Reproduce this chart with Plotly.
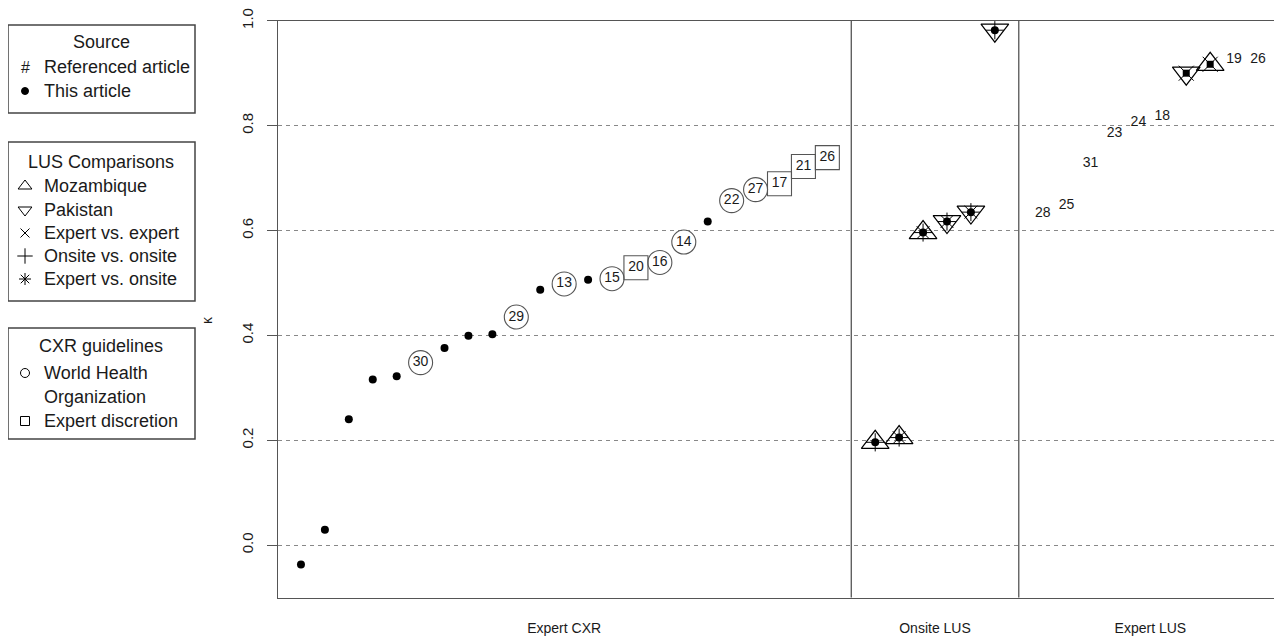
import plotly.graph_objects as go

# ---------------- data ----------------
cxr_values = [-0.037, 0.029, 0.240, 0.316, 0.322, 0.348, 0.376, 0.399, 0.402, 0.435,
              0.487, 0.498, 0.506, 0.508, 0.529, 0.539, 0.578, 0.617, 0.657, 0.678,
              0.689, 0.722, 0.739]
cxr_labels = [None, None, None, None, None, "30", None, None, None, "29",
              None, "13", None, "15", "20", "16", "14", None, "22", "27",
              "17", "21", "26"]
cxr_guideline = [None, None, None, None, None, "WHO", None, None, None, "WHO",
                 None, "WHO", None, "WHO", "Expert", "WHO", "WHO", None, "WHO", "WHO",
                 "Expert", "Expert", "Expert"]

onsite_values = [0.196, 0.205, 0.596, 0.617, 0.635, 0.982]
onsite_country = ["Mozambique", "Mozambique", "Mozambique", "Pakistan", "Pakistan", "Pakistan"]
onsite_comparison = ["Onsite vs. onsite", "Expert vs. onsite", "Expert vs. onsite",
                     "Expert vs. onsite", "Expert vs. onsite", "Onsite vs. onsite"]

expert_values = [0.633, 0.648, 0.728, 0.785, 0.806, 0.818, 0.900, 0.917, 0.926, 0.926]
expert_labels = ["28", "25", "31", "23", "24", "18", None, None, "19", "26"]
expert_country = [None, None, None, None, None, None, "Pakistan", "Mozambique", None, None]

group_names = ["Expert CXR", "Onsite LUS", "Expert LUS"]
y_ticks = [0.0, 0.2, 0.4, 0.6, 0.8, 1.0]
y_ticktext = ["0.0", "0.2", "0.4", "0.6", "0.8", "1.0"]

# ---------------- positions (sequential slots with one-slot gaps) ----------------
cxr_x = list(range(len(cxr_values)))
sep1 = len(cxr_values)
onsite_x = [sep1 + 1 + i for i in range(len(onsite_values))]
sep2 = onsite_x[-1] + 1
expert_x = [sep2 + 1 + i for i in range(len(expert_values))]
group_centers = [sum(cxr_x) / len(cxr_x), sum(onsite_x) / len(onsite_x), sum(expert_x) / len(expert_x)]

# page body has an 8px margin; the figure is laid out in window pixels
OFF = 8
W, H = 1282 - OFF, 637 - OFF


def pxx(px):
    return (px - OFF) / W


def pxy(py):
    return (H - (py - OFF)) / H


FONT = "Liberation Sans, Arial, Helvetica, sans-serif"
INK = "#1a1a1a"
LINE = "#555555"

fig = go.Figure()


def add(x, y, **kw):
    fig.add_trace(go.Scatter(x=x, y=y, showlegend=False, hoverinfo="skip", cliponaxis=False, **kw))


# Expert CXR: this article dots
dx = [x for x, l in zip(cxr_x, cxr_labels) if l is None]
dy = [v for v, l in zip(cxr_values, cxr_labels) if l is None]
add(dx, dy, mode="markers", marker=dict(symbol="circle", size=8, color="black"))

# referenced: WHO (circle) and expert discretion (square)
for g, sym in [("WHO", "circle-open"), ("Expert", "square-open")]:
    xs = [x for x, gg in zip(cxr_x, cxr_guideline) if gg == g]
    ys = [v for v, gg in zip(cxr_values, cxr_guideline) if gg == g]
    ts = [l for l, gg in zip(cxr_labels, cxr_guideline) if gg == g]
    add(xs, ys, mode="markers+text", text=ts, textposition="middle center",
        textfont=dict(family=FONT, size=14, color=INK),
        marker=dict(symbol=sym, size=24, color=LINE, line=dict(color=LINE, width=1.1)))

# Onsite LUS
tri_sym = {"Mozambique": "triangle-up-open", "Pakistan": "triangle-down-open"}
cmp_sym = {"Onsite vs. onsite": "cross-thin-open", "Expert vs. onsite": "asterisk-open",
           "Expert vs. expert": "x-thin-open"}
cmp_size = {"Onsite vs. onsite": 13, "Expert vs. onsite": 15, "Expert vs. expert": 15}
for c in ["Mozambique", "Pakistan"]:
    xs = [x for x, cc in zip(onsite_x, onsite_country) if cc == c]
    ys = [v for v, cc in zip(onsite_values, onsite_country) if cc == c]
    add(xs, ys, mode="markers", marker=dict(symbol=tri_sym[c], size=24, color="black",
                                            line=dict(color="black", width=1.2)))
for k in ["Onsite vs. onsite", "Expert vs. onsite"]:
    xs = [x for x, cc in zip(onsite_x, onsite_comparison) if cc == k]
    ys = [v for v, cc in zip(onsite_values, onsite_comparison) if cc == k]
    add(xs, ys, mode="markers", marker=dict(symbol=cmp_sym[k], size=cmp_size[k], color="black",
                                            line=dict(color="black", width=1)))
add(onsite_x, onsite_values, mode="markers", marker=dict(symbol="circle", size=8, color="black"))

# Expert LUS
for c in ["Mozambique", "Pakistan"]:
    xs = [x for x, cc in zip(expert_x, expert_country) if cc == c]
    ys = [v for v, cc in zip(expert_values, expert_country) if cc == c]
    add(xs, ys, mode="markers", marker=dict(symbol=tri_sym[c], size=24, color="black",
                                            line=dict(color="black", width=1.2)))
    add(xs, ys, mode="markers", marker=dict(symbol=cmp_sym["Expert vs. expert"],
                                            size=cmp_size["Expert vs. expert"],
                                            color="black", line=dict(color="black", width=1)))
    add(xs, ys, mode="markers", marker=dict(symbol="square", size=7, color="black"))
tx = [x for x, l in zip(expert_x, expert_labels) if l is not None]
ty = [v for v, l in zip(expert_values, expert_labels) if l is not None]
tt = [l for l in expert_labels if l is not None]
add(tx, ty, mode="text", text=tt, textposition="middle center",
    textfont=dict(family=FONT, size=14, color=INK))

# ---------------- legend (drawn in a window-pixel overlay) ----------------
legend_sym_x = 25
legend_text_x = 42
legend_boxes = [(8, 25, 195, 113), (8, 142, 195, 301), (8, 328, 195, 439)]
legend_titles = [("Source", 42), ("LUS Comparisons", 162), ("CXR guidelines", 346)]
legend_items = [
    ("Referenced article", 67, "text:#"),
    ("This article", 91, "circle"),
    ("Mozambique", 186, "triangle-up-open"),
    ("Pakistan", 210, "triangle-down-open"),
    ("Expert vs. expert", 233, "x-thin-open"),
    ("Onsite vs. onsite", 256, "cross-thin-open"),
    ("Expert vs. onsite", 279, "asterisk-open"),
    ("World Health", 373, "circle-open"),
    ("Organization", 397, None),
    ("Expert discretion", 421, "square-open"),
]
sym_sizes = {"circle": 7, "triangle-up-open": 12, "triangle-down-open": 12, "x-thin-open": 9,
             "cross-thin-open": 11, "asterisk-open": 10, "circle-open": 9, "square-open": 9}

shapes = []
annotations = []
for (x0, y0, x1, y1) in legend_boxes:
    shapes.append(dict(type="rect", xref="x2", yref="y2", x0=x0, y0=y0, x1=x1, y1=y1,
                       line=dict(color="#444444", width=1.5)))
for t, yy in legend_titles:
    annotations.append(dict(xref="x2", yref="y2", x=101, y=yy, text=t, showarrow=False,
                            xanchor="center", yanchor="middle",
                            font=dict(family=FONT, size=18, color=INK)))
for t, yy, s in legend_items:
    annotations.append(dict(xref="x2", yref="y2", x=legend_text_x, y=yy, text=t, showarrow=False,
                            xanchor="left", yanchor="middle",
                            font=dict(family=FONT, size=18, color=INK)))
    if s is None:
        continue
    if s.startswith("text:"):
        annotations.append(dict(xref="x2", yref="y2", x=legend_sym_x, y=yy, text=s[5:], showarrow=False,
                                xanchor="center", yanchor="middle",
                                font=dict(family=FONT, size=16, color=INK)))
    else:
        fig.add_trace(go.Scatter(x=[legend_sym_x], y=[yy], xaxis="x2", yaxis="y2", mode="markers",
                                 showlegend=False, hoverinfo="skip", cliponaxis=False,
                                 marker=dict(symbol=s, size=sym_sizes[s], color="black",
                                             line=dict(color="black", width=1))))

# separators between groups
for sx in [sep1, sep2]:
    shapes.append(dict(type="line", xref="x", yref="paper", x0=sx, x1=sx,
                       y0=pxy(597.5), y1=pxy(20.5), line=dict(color=LINE, width=1.3)))

# kappa label
annotations.append(dict(xref="paper", yref="paper", x=pxx(207), y=pxy(320), text="κ",
                        showarrow=False, textangle=-90, xanchor="center", yanchor="middle",
                        font=dict(family=FONT, size=14, color=INK)))

fig.update_layout(
    width=W, height=H,
    margin=dict(l=0, r=0, t=0, b=0),
    paper_bgcolor="white", plot_bgcolor="rgba(0,0,0,0)",
    showlegend=False,
    shapes=shapes, annotations=annotations,
    xaxis=dict(domain=[pxx(278), pxx(1281)], range=[-0.96, 40.96], showgrid=False, zeroline=False,
               tickmode="array", tickvals=group_centers, ticktext=group_names,
               ticks="outside", ticklen=18, tickcolor="rgba(0,0,0,0)",
               tickfont=dict(family=FONT, size=14, color=INK),
               showline=True, mirror=True, linecolor=LINE, linewidth=1.3, automargin=False),
    yaxis=dict(domain=[pxy(597.5), pxy(20.5)], range=[-0.1, 1.0005], zeroline=False,
               tickmode="array", tickvals=y_ticks, ticktext=y_ticktext, tickangle=-90,
               ticks="outside", ticklen=10, tickcolor=LINE, tickwidth=1.3,
               ticklabelstandoff=8,
               tickfont=dict(family=FONT, size=15, color=INK),
               showgrid=True, gridcolor="#888888", gridwidth=1.2, griddash="4px,4px",
               showline=True, mirror=True, linecolor=LINE, linewidth=1.3, automargin=False),
    xaxis2=dict(domain=[0, 1], range=[OFF, OFF + W], visible=False, anchor="y2", fixedrange=True),
    yaxis2=dict(domain=[0, 1], range=[OFF + H, OFF], visible=False, anchor="x2", fixedrange=True),
)

fig.write_html("out.html")
